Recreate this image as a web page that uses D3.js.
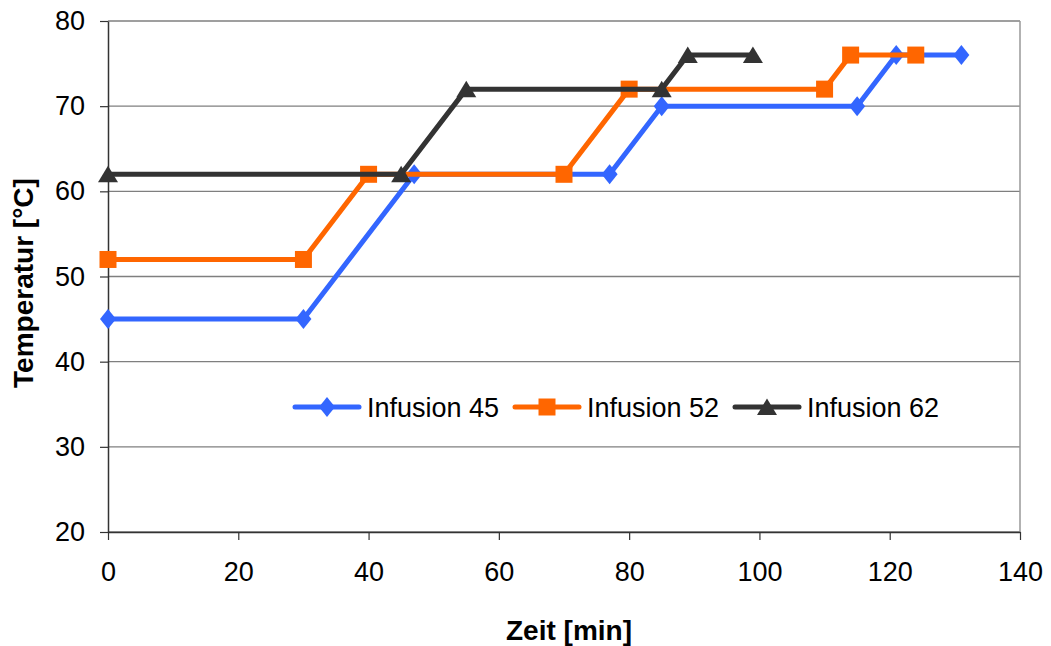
<!DOCTYPE html>
<html>
<head>
<meta charset="utf-8">
<script src="https://cdn.jsdelivr.net/npm/d3@7"></script>
<style>
  body { margin: 0; background: #fff; }
  svg text { font-family: "Liberation Sans", Arial, sans-serif; }
</style>
</head>
<body>
<div id="vis"></div>
<script>
// data
const seriesNames = ["Infusion 45", "Infusion 52", "Infusion 62"];
const infusion45 = [[0,45],[30,45],[47,62],[77,62],[85,70],[115,70],[121,76],[131,76]];
const infusion52 = [[0,52],[30,52],[40,62],[70,62],[80,72],[110,72],[114,76],[124,76]];
const infusion62 = [[0,62],[45,62],[55,72],[85,72],[89,76],[99,76]];
const xTicks = [0,20,40,60,80,100,120,140];
const yTicks = [20,30,40,50,60,70,80];

const colors = ["#3366ff", "#ff6600", "#333333"];
const allSeries = [infusion45, infusion52, infusion62];

// marker shapes (diamond, square, triangle) as small path strings
const markers = [
    "M0,-10L8,0L0,10L-8,0Z",
    "M-8.5,-8.5H8.5V8.5H-8.5Z",
    "M0,-8.5L10,8L-10,8Z"
];

const W = 1051, H = 646;
const margin = {top: 21, right: 31, bottom: 114, left: 108};
const width = W - margin.left - margin.right;
const height = H - margin.top - margin.bottom;

const svg = d3.select('#vis').append('svg')
    .attr('width', W).attr('height', H)
    .append('g')
    .attr('transform', `translate(${margin.left},${margin.top})`);

const x = d3.scaleLinear().domain([0,140]).range([0, width]);
const y = d3.scaleLinear().domain([20,80]).range([height, 0]);

// grid lines
svg.append("g")
    .selectAll("line")
    .data(yTicks)
    .join("line")
    .attr("x1", 0).attr("x2", width)
    .attr("y1", d => y(d)).attr("y2", d => y(d))
    .attr("stroke", "#7f7f7f").attr("stroke-width", 1.3);

// right border
svg.append("line")
    .attr("x1", width).attr("x2", width)
    .attr("y1", 0).attr("y2", height)
    .attr("stroke", "#999").attr("stroke-width", 1.5);

// axes
const xAxis = svg.append("g")
    .attr("transform", `translate(0,${height})`)
    .call(d3.axisBottom(x).tickValues(xTicks).tickSize(8).tickSizeOuter(0).tickPadding(22));
const yAxis = svg.append("g")
    .call(d3.axisLeft(y).tickValues(yTicks).tickSize(8).tickSizeOuter(0).tickPadding(15));

[xAxis, yAxis].forEach(a => {
    a.select(".domain").attr("stroke", "#333").attr("stroke-width", 1.5);
    a.selectAll(".tick line").attr("stroke", "#333").attr("stroke-width", 1.2);
    a.selectAll(".tick text").attr("fill", "#000").style("font-size", "27px")
        .style("font-family", "'Liberation Sans', Arial, sans-serif");
});

// series
const lineGen = d3.line().x(d => x(d[0])).y(d => y(d[1]));
allSeries.forEach((s, i) => {
    svg.append("path")
        .datum(s)
        .attr("fill", "none")
        .attr("stroke", colors[i])
        .attr("stroke-width", 5)
        .attr("stroke-linejoin", "round")
        .attr("d", lineGen);
    svg.selectAll(".pt" + i)
        .data(s)
        .join("path")
        .attr("class", "pt" + i)
        .attr("transform", d => `translate(${x(d[0])},${y(d[1])})`)
        .attr("d", markers[i])
        .attr("fill", colors[i]);
});

// legend
const legendX = [185, 405, 625];
const legend = svg.append("g").attr("transform", `translate(0, ${407 - margin.top})`);
seriesNames.forEach((name, i) => {
    const g = legend.append("g").attr("transform", `translate(${legendX[i]},0)`);
    g.append("line")
        .attr("x1", 2).attr("x2", 66).attr("y1", 0).attr("y2", 0)
        .attr("stroke", colors[i]).attr("stroke-width", 5).attr("stroke-linecap", "round");
    g.append("path")
        .attr("transform", "translate(34,0)")
        .attr("d", markers[i])
        .attr("fill", colors[i]);
    g.append("text")
        .attr("x", 74).attr("y", 10)
        .style("font-size", "27px")
        .text(name);
});

// axis titles
svg.append("text")
    .attr("x", 569 - margin.left)
    .attr("y", 640 - margin.top)
    .attr("text-anchor", "middle")
    .style("font-size", "28px").style("font-weight", "bold")
    .text("Zeit [min]");

svg.append("text")
    .attr("transform", "rotate(-90)")
    .attr("x", -(283 - margin.top))
    .attr("y", 33 - margin.left)
    .attr("text-anchor", "middle")
    .style("font-size", "28px").style("font-weight", "bold")
    .text("Temperatur [°C]");
</script>
</body>
</html>
